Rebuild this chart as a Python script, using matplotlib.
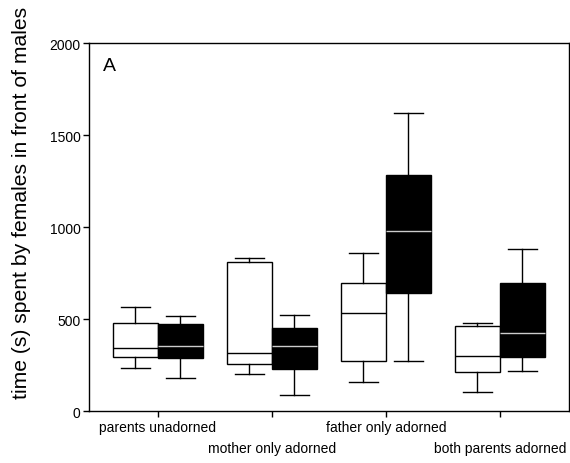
"""Time spent by females in front of males, by parental adornment"""
import numpy as np
import matplotlib
matplotlib.use('Agg')
from matplotlib import pyplot as plt

plt.rcParams['font.family'] = ['Liberation Sans', 'DejaVu Sans']

groups = ['parents unadorned', 'mother only adorned',
          'father only adorned', 'both parents adorned']

# white boxes
white_lo = [235, 201, 159, 105]
white_q1 = [292, 257, 272, 210]
white_med = [341, 313, 531, 299]
white_q3 = [480, 812, 697, 460]
white_hi = [567, 831, 861, 480]

# black boxes
black_lo = [179, 89, 272, 217]
black_q1 = [288, 230, 643, 293]
black_med = [355, 353, 980, 424]
black_q3 = [473, 451, 1284, 697]
black_hi = [518, 524, 1618, 880]


def make_stats(lo, q1, med, q3, hi):
    return [dict(whislo=a, q1=b, med=c, q3=d, whishi=e, fliers=[])
            for a, b, c, d, e in zip(lo, q1, med, q3, hi)]


fig = plt.figure(figsize=(5.7, 4.64), dpi=100)
ax = fig.add_axes([0.156, 0.112, 0.842, 0.793])

x = np.arange(1, len(groups) + 1)
w = 0.395
lw = 1.0

ax.bxp(make_stats(white_lo, white_q1, white_med, white_q3, white_hi),
       positions=x - w / 2, widths=w, capwidths=0.26, patch_artist=True,
       showfliers=False, manage_ticks=False,
       boxprops=dict(facecolor='white', edgecolor='black', linewidth=lw),
       medianprops=dict(color='black', linewidth=lw),
       whiskerprops=dict(color='black', linewidth=lw),
       capprops=dict(color='black', linewidth=lw))
ax.bxp(make_stats(black_lo, black_q1, black_med, black_q3, black_hi),
       positions=x + w / 2, widths=w, capwidths=0.26, patch_artist=True,
       showfliers=False, manage_ticks=False,
       boxprops=dict(facecolor='black', edgecolor='black', linewidth=lw),
       medianprops=dict(color='#cccccc', linewidth=lw),
       whiskerprops=dict(color='black', linewidth=lw),
       capprops=dict(color='black', linewidth=lw))

ax.set_xlim(0.395, 4.605)
ax.set_ylim(0, 2000)
ax.set_yticks(np.arange(0, 2001, 500))
ax.set_xticks(x)
ax.set_xticklabels([])
ax.tick_params(axis='both', direction='out', length=4, width=1,
               labelsize=10, pad=2)
for s in ax.spines.values():
    s.set_linewidth(1)

# alternating two-row category labels
for i, g in enumerate(groups):
    off = -16 if i % 2 == 0 else -37
    ax.annotate(g, xy=(x[i], 0), xycoords=('data', 'axes fraction'),
                xytext=(0, off), textcoords='offset pixels',
                ha='center', va='center', fontsize=10)

ax.text(0.03, 0.94, 'A', transform=ax.transAxes, fontsize=14,
        ha='left', va='center')
fig.text(0.038, 0.5625, 'time (s) spent by females in front of males',
         rotation=90, ha='center', va='center', fontsize=15.2)

fig.savefig('out.png', dpi=100)
